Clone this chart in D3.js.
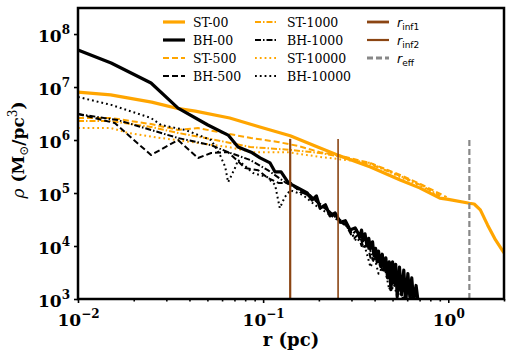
<!DOCTYPE html>
<html>
<head>
<meta charset="utf-8">
<script src="https://cdn.jsdelivr.net/npm/d3@7"></script>
<style>
  body { margin: 0; background: #fff; }
  svg { display: block; }
</style>
</head>
<body>
<div id="chart"></div>
<script>
// density profiles, [r (pc), rho (Msun/pc^3)]
const st00 = [[0.01, 8.0e6], [0.015, 7.1e6], [0.025, 5.2e6], [0.035, 3.9e6], [0.043, 3.5e6], [0.066, 2.6e6],
  [0.096, 1.76e6], [0.14, 1.2e6], [0.2, 7.2e5], [0.25, 5.3e5], [0.38, 3.1e5], [0.55, 1.76e5], [0.7, 1.25e5],
  [0.9, 8.0e4], [1.0, 7.6e4], [1.3, 6.4e4], [1.38, 6.2e4], [1.49, 4.8e4], [1.63, 2.5e4], [1.8, 1.3e4], [2.0, 7.4e3]];

const st500 = [[0.01, 2.6e6], [0.0151, 2.6e6], [0.0248, 2.0e6], [0.0347, 1.55e6], [0.0445, 1.68e6], [0.0571, 1.42e6],
  [0.0861, 1.09e6], [0.12, 9.2e5], [0.155, 7.7e5], [0.203, 5.9e5], [0.251, 5.2e5], [0.378, 3.7e5], [0.55, 2.19e5],
  [0.706, 1.48e5], [0.98, 8.4e4]];

const st1000 = [[0.01, 2.28e6], [0.0151, 2.28e6], [0.0248, 1.76e6], [0.0347, 1.36e6], [0.0524, 1.04e6], [0.0851, 7.4e5],
  [0.14, 6.5e5], [0.203, 5.7e5], [0.251, 5.0e5], [0.378, 3.5e5], [0.55, 2.1e5], [0.706, 1.42e5], [0.905, 8.8e4]];

const st10000 = [[0.01, 1.68e6], [0.0151, 1.68e6], [0.0186, 1.36e6], [0.0281, 1.09e6], [0.0647, 7.4e5], [0.0883, 5.9e5],
  [0.135, 5.9e5], [0.203, 4.8e5], [0.251, 4.4e5], [0.378, 3.7e5], [0.55, 2.0e5], [0.706, 1.36e5], [0.905, 8.4e4]];

const bh00 = [[0.01, 5.0e7], [0.0151, 2.84e7], [0.0248, 1.19e7], [0.0347, 4.0e6], [0.0503, 1.92e6], [0.0647, 1.24e6],
  [0.0732, 7.4e5], [0.0861, 5.9e5], [0.0963, 4.6e5], [0.109, 3.7e5], [0.116, 2.5e5], [0.125, 2.5e5], [0.137, 1.55e5],
  [0.155, 1.24e5], [0.173, 1.0e5], [0.184, 7.4e4], [0.194, 8.8e4], [0.203, 5.2e4], [0.217, 6.0e4], [0.23, 3.7e4],
  [0.245, 4.2e4], [0.261, 2.8e4], [0.278, 3.0e4], [0.295, 2.0e4], [0.314, 2.2e4], [0.334, 1.5e4], [0.34, 2.0e4],
  [0.346, 1.3e4], [0.355, 1.7e4], [0.364, 1.0e4], [0.372, 1.4e4], [0.38, 9.0e3], [0.39, 1.2e4], [0.397, 6.5e3],
  [0.405, 9.0e3], [0.413, 5.0e3], [0.42, 8.0e3], [0.43, 4.5e3], [0.44, 7.0e3], [0.45, 3.5e3], [0.46, 6.0e3],
  [0.47, 2.5e3], [0.48, 5.0e3], [0.49, 1.5e3], [0.5, 5.0e3], [0.51, 2.0e3], [0.52, 4.5e3], [0.53, 1.1e3],
  [0.545, 4.0e3], [0.56, 1.2e3], [0.575, 3.5e3], [0.59, 9.0e2], [0.605, 3.0e3], [0.62, 1.1e3], [0.635, 2.5e3],
  [0.65, 9.0e2], [0.67, 1.8e3], [0.69, 8.0e2]];

const bh500 = [[0.01, 3.1e6], [0.0158, 2.09e6], [0.0248, 5.2e5], [0.0347, 1.0e6], [0.0445, 4.57e5], [0.0524, 5.7e5],
  [0.0647, 5.9e5], [0.08, 2.96e5], [0.094, 2.7e5], [0.106, 1.92e5], [0.121, 1.55e5], [0.142, 1.55e5], [0.158, 1.04e5],
  [0.179, 9.2e4], [0.203, 5.9e4], [0.23, 4.4e4], [0.261, 3.1e4], [0.28, 2.5e4], [0.3, 1.6e4], [0.32, 2.0e4],
  [0.34, 1.0e4], [0.36, 1.4e4], [0.38, 6.0e3], [0.4, 8.0e3], [0.43, 4.0e3], [0.46, 5.0e3], [0.49, 2.0e3],
  [0.52, 3.0e3], [0.55, 1.3e3], [0.6, 1.8e3], [0.64, 9.0e2]];

const bh1000 = [[0.01, 3.1e6], [0.0164, 2.38e6], [0.0248, 1.55e6], [0.0347, 1.09e6], [0.0524, 8.0e5], [0.0647, 5.9e5],
  [0.0851, 4.2e5], [0.106, 2.7e5], [0.131, 1.61e5], [0.158, 1.13e5], [0.191, 7.4e4], [0.23, 4.4e4], [0.261, 2.84e4],
  [0.29, 2.2e4], [0.31, 1.4e4], [0.33, 1.7e4], [0.35, 9.0e3], [0.37, 1.2e4], [0.39, 5.5e3], [0.42, 7.0e3],
  [0.44, 3.5e3], [0.47, 4.0e3], [0.5, 1.6e3], [0.53, 2.2e3], [0.57, 1.0e3], [0.61, 1.4e3], [0.66, 8.0e2]];

const bh10000 = [[0.01, 6.5e6], [0.0151, 4.6e6], [0.0248, 2.6e6], [0.0281, 1.92e6], [0.0379, 1.55e6], [0.0524, 1.0e6],
  [0.0585, 5.2e5], [0.0624, 3.1e5], [0.0647, 1.6e5], [0.0705, 2.96e5], [0.0732, 4.2e5], [0.0883, 2.38e5],
  [0.105, 2.0e5], [0.116, 1.42e5], [0.123, 5.2e4], [0.131, 8.4e4], [0.14, 1.13e5], [0.164, 9.2e4], [0.191, 5.9e4],
  [0.23, 3.85e4], [0.278, 2.5e4], [0.3, 1.8e4], [0.32, 1.2e4], [0.34, 1.5e4], [0.36, 8.0e3], [0.38, 4.0e3],
  [0.4, 6.0e3], [0.42, 3.0e3], [0.45, 4.5e3], [0.48, 1.5e3], [0.5, 2.5e3], [0.53, 1.1e3], [0.56, 1.6e3], [0.6, 9.0e2]];

// characteristic radii (pc) and the height the markers reach
const rInf1 = 0.14, rInf2 = 0.254, rEff = 1.3;
const markerTop = 1.05e6;

const xTicks = [0.01, 0.1, 1], xExp = ["\u22122", "\u22121", "0"];
const yTicks = [1e3, 1e4, 1e5, 1e6, 1e7, 1e8], yExp = ["3", "4", "5", "6", "7", "8"];

const width = 511, height = 357,
    margin = ({ top: 8, right: 7, bottom: 58, left: 78 });

const svg = d3.select("#chart").append("svg")
    .attr("width", width).attr("height", height)
    .attr("viewBox", [0, 0, width, height]);

const x = d3.scaleLog().domain([0.01, 2]).range([margin.left, width - margin.right]);
const y = d3.scaleLog().domain([1e3, 3.1e8]).range([height - margin.bottom, margin.top]);

svg.append("clipPath").attr("id", "plot")
  .append("rect")
    .attr("x", margin.left).attr("y", margin.top)
    .attr("width", x.range()[1] - margin.left)
    .attr("height", y.range()[0] - margin.top);

const orange = "#ffa500", brown = "#8b4513", grey = "#888888";

const series = [
  { name: "ST-00", data: st00, color: orange, w: 3.2, dash: null },
  { name: "ST-500", data: st500, color: orange, w: 2, dash: "6,3" },
  { name: "ST-1000", data: st1000, color: orange, w: 2, dash: "6,2,1.5,2" },
  { name: "ST-10000", data: st10000, color: orange, w: 2, dash: "1.8,3" },
  { name: "BH-00", data: bh00, color: "#000", w: 3.2, dash: null },
  { name: "BH-500", data: bh500, color: "#000", w: 2, dash: "6,3" },
  { name: "BH-1000", data: bh1000, color: "#000", w: 2, dash: "6,2,1.5,2" },
  { name: "BH-10000", data: bh10000, color: "#000", w: 2, dash: "1.8,3" }
];

const line = d3.line().x(d => x(d[0])).y(d => y(d[1]));

const plot = svg.append("g").attr("clip-path", "url(#plot)");

for (let s of series) {
  plot.append("path")
    .datum(s.data)
    .attr("fill", "none")
    .attr("stroke", s.color)
    .attr("stroke-width", s.w)
    .attr("stroke-dasharray", s.dash)
    .attr("stroke-linejoin", "round")
    .attr("d", line);
}

const markers = [
  { r: rInf1, color: brown, w: 2.2, dash: null },
  { r: rInf2, color: brown, w: 1.6, dash: null },
  { r: rEff, color: grey, w: 2.2, dash: "6,3" }
];
for (let m of markers) {
  plot.append("line")
    .attr("x1", x(m.r)).attr("x2", x(m.r))
    .attr("y1", y(1e3)).attr("y2", y(markerTop))
    .attr("stroke", m.color)
    .attr("stroke-width", m.w)
    .attr("stroke-dasharray", m.dash);
}

// axes
const fontSerif = "'DejaVu Serif', serif";

const xAxis = svg.append("g")
    .attr("transform", `translate(0,${y.range()[0]})`)
    .call(d3.axisBottom(x).tickValues(xTicks).tickSize(4).tickPadding(5).tickFormat(() => ""));
const xMinor = svg.append("g")
    .attr("transform", `translate(0,${y.range()[0]})`)
    .call(d3.axisBottom(x)
      .tickValues([0.02, 0.03, 0.04, 0.05, 0.06, 0.07, 0.08, 0.09, 0.2, 0.3, 0.4, 0.5, 0.6, 0.7, 0.8, 0.9, 2])
      .tickSize(2.5).tickFormat(() => ""));
const yAxis = svg.append("g")
    .attr("transform", `translate(${margin.left},0)`)
    .call(d3.axisLeft(y).tickValues(yTicks).tickSize(4).tickPadding(4).tickFormat(() => ""));

for (let g of [xAxis, xMinor, yAxis]) {
  g.select(".domain").remove();
  g.selectAll(".tick line").attr("stroke", "#000").attr("stroke-width", 1.6);
}

xAxis.selectAll(".tick text").each(function(d, i) {
  const t = d3.select(this)
    .attr("font-family", fontSerif).attr("font-weight", "bold")
    .attr("font-size", 17).attr("fill", "#000").attr("dy", "1.05em");
  t.append("tspan").text("10");
  t.append("tspan").attr("font-size", 12).attr("dy", -8).text(xExp[i]);
});

yAxis.selectAll(".tick text").each(function(d, i) {
  const t = d3.select(this)
    .attr("font-family", fontSerif).attr("font-weight", "bold")
    .attr("font-size", 17).attr("fill", "#000").attr("dy", "0.45em");
  t.append("tspan").text("10");
  t.append("tspan").attr("font-size", 12).attr("dy", -8).text(yExp[i]);
});

// frame
svg.append("rect")
    .attr("x", margin.left).attr("y", margin.top)
    .attr("width", x.range()[1] - margin.left)
    .attr("height", y.range()[0] - margin.top)
    .attr("fill", "none")
    .attr("stroke", "#000")
    .attr("stroke-width", 2.5);

// axis labels
svg.append("text")
    .attr("x", (margin.left + x.range()[1]) / 2)
    .attr("y", 346)
    .attr("text-anchor", "middle")
    .attr("font-family", fontSerif).attr("font-weight", "bold").attr("font-size", 18)
    .text("r (pc)");

const yl = svg.append("text")
    .attr("transform", "translate(24,150) rotate(-90)")
    .attr("text-anchor", "middle")
    .attr("font-family", fontSerif).attr("font-weight", "bold").attr("font-size", 17);
yl.append("tspan").attr("font-style", "italic").attr("font-weight", "normal").text("\u03c1");
yl.append("tspan").text(" (M");
yl.append("tspan").attr("font-size", 12).attr("dy", 4).attr("font-weight", "normal").text("\u2299");
yl.append("tspan").attr("dy", -4).text("/pc");
yl.append("tspan").attr("font-size", 12).attr("dy", -7).attr("font-weight", "normal").text("3");
yl.append("tspan").attr("dy", 7).text(")");

// legend
const legendCols = [
  { x0: 163, tx: 193, items: [series[0], series[4], series[1], series[5]] },
  { x0: 255, tx: 287, items: [series[2], series[6], series[3], series[7]] }
];
const rowY = [22, 40, 58, 76];

for (let c of legendCols) {
  c.items.forEach((s, i) => {
    svg.append("line")
      .attr("x1", c.x0).attr("x2", c.x0 + 22)
      .attr("y1", rowY[i]).attr("y2", rowY[i])
      .attr("stroke", s.color).attr("stroke-width", s.w)
      .attr("stroke-dasharray", s.dash);
    svg.append("text")
      .attr("x", c.tx).attr("y", rowY[i] + 4.5)
      .attr("font-family", fontSerif).attr("font-size", 12.5)
      .text(s.name);
  });
}

const markerLegend = [
  { sub: "inf1", m: markers[0] },
  { sub: "inf2", m: markers[1] },
  { sub: "eff", m: markers[2] }
];
markerLegend.forEach((e, i) => {
  svg.append("line")
    .attr("x1", 367).attr("x2", 389)
    .attr("y1", rowY[i]).attr("y2", rowY[i])
    .attr("stroke", e.m.color).attr("stroke-width", e.m.w + 0.6)
    .attr("stroke-dasharray", e.m.dash);
  const t = svg.append("text")
    .attr("x", 397).attr("y", rowY[i] + 4.5)
    .attr("font-family", "'DejaVu Sans', sans-serif").attr("font-size", 12.5);
  t.append("tspan").attr("font-style", "italic").text("r");
  t.append("tspan").attr("font-size", 9).attr("dy", 3).text(e.sub);
});
</script>
</body>
</html>
